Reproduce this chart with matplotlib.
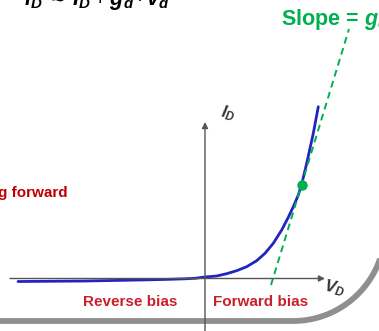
import numpy as np
import matplotlib
matplotlib.use("Agg")
import matplotlib.pyplot as plt

plt.rcParams['font.family'] = ['Liberation Sans', 'DejaVu Sans']
plt.rcParams['mathtext.fontset'] = 'custom'
plt.rcParams['mathtext.rm'] = 'Liberation Sans'
plt.rcParams['mathtext.it'] = 'Liberation Sans:italic'
plt.rcParams['mathtext.bf'] = 'Liberation Sans:bold'
plt.rcParams['mathtext.bfit'] = 'Liberation Sans:bold:italic'

# diode I-V curve (V in volts, I in mA)
v_diode = [-1.87, -1.20, -0.55, -0.35, -0.20, -0.10, 0.00, 0.117, 0.217,
           0.317, 0.417, 0.517, 0.60, 0.683, 0.767, 0.833, 0.883, 0.933,
           0.965, 1.017, 1.083, 1.133]
i_diode = [-0.30, -0.25, -0.13, -0.08, -0.03, 0.02, 0.15, 0.25, 0.48,
           0.78, 1.18, 1.78, 2.52, 3.52, 4.85, 6.12, 7.18, 8.35,
           9.35, 11.52, 14.52, 17.18]

# operating point and tangent line
v_q, i_q = 0.965, 9.35
tan_v = [0.66, 1.44]
tan_i = [-0.65, 24.95]

RED = '#c8202c'
GREEN = '#00b050'
BLUE = '#2323c4'
AXC = '#555555'

fig = plt.figure(figsize=(3.79, 3.31), dpi=100)

# background layer in pixel units for the frame and labels
deco = fig.add_axes([0, 0, 1, 1], zorder=0)
deco.set_xlim(0, 379)
deco.set_ylim(331, 0)
deco.axis('off')

# rounded gray frame corner
t = np.radians(np.linspace(-15, 90, 80))
fx = np.concatenate([293 + 92 * np.cos(t), [-10]])
fy = np.concatenate([229 + 92 * np.sin(t), [321]])
deco.plot(fx, fy, color='#8f8f8f', lw=4.2, solid_capstyle='butt')

ax = fig.add_axes([0, 0, 1, 1], zorder=1)
ax.patch.set_alpha(0)
ax.set_xlim(-2.05, 1.74)
ax.set_ylim(-5.25, 27.85)
ax.axis('off')

# axes with arrows
ax.annotate('', xy=(1.20, 0), xytext=(-1.95, 0),
            arrowprops=dict(arrowstyle='-|>', mutation_scale=9, lw=1.0, color=AXC,
                            shrinkA=0, shrinkB=0))
ax.annotate('', xy=(0, 15.65), xytext=(0, -5.4),
            arrowprops=dict(arrowstyle='-|>', mutation_scale=9, lw=1.0, color=AXC,
                            shrinkA=0, shrinkB=0))

ax.plot(v_diode, i_diode, color=BLUE, lw=2.0, solid_capstyle='round',
        solid_joinstyle='round')
ax.plot(tan_v, tan_i, color=GREEN, lw=1.4, dashes=(3.5, 2.4))
ax.plot([v_q], [i_q], 'o', color=GREEN, ms=7.5, mec='none')

deco.text(219, 113, r'$\mathbfit{I}_{\mathbfit{D}}$', fontsize=12, color='#333333',
          ha='left', va='center', rotation=-12)
deco.text(322, 288, r'$\mathbfit{V}_{\mathbfit{D}}$', fontsize=12, color='#333333',
          ha='left', va='center', rotation=-12)

deco.text(130, 302, 'Reverse bias', fontsize=11, color=RED, fontweight='bold',
          ha='center', va='center')
deco.text(261, 302, 'Forward bias', fontsize=11, color=RED, fontweight='bold',
          ha='center', va='center')
deco.text(68, 193, 'Biasing forward', fontsize=11, color='#c00000', fontweight='bold',
          ha='right', va='center')

deco.text(281, 20, r'Slope = $\mathbfit{g}_{\mathbfit{d}}$', fontsize=15.5, color=GREEN,
          fontweight='bold', ha='left', va='center')

deco.text(170, 5, r'$\mathbfit{i}_{\mathbfit{D}}\ \approx\ \mathbfit{I}_{\mathbfit{D}} + '
          r'\mathbfit{g}_{\mathbfit{d}}\cdot\mathbfit{v}_{\mathbfit{d}}$',
          fontsize=15.5, color='black', ha='right', va='baseline')

fig.savefig('out.png', dpi=100)
